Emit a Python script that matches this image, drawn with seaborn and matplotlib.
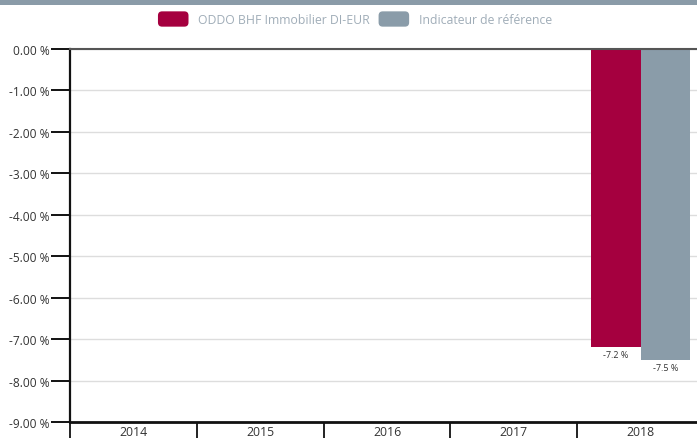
import matplotlib
matplotlib.use("Agg")
import matplotlib.pyplot as plt
import seaborn as sns
import pandas as pd
import numpy as np
from matplotlib.patches import FancyBboxPatch, Rectangle
from matplotlib.legend_handler import HandlerPatch

# ---- data ----
years = ["2014", "2015", "2016", "2017", "2018"]
fund_values = [np.nan, np.nan, np.nan, np.nan, -7.2]
bench_values = [np.nan, np.nan, np.nan, np.nan, -7.5]
series_names = ["ODDO BHF Immobilier DI-EUR", "Indicateur de référence"]
y_ticks = [0, -1, -2, -3, -4, -5, -6, -7, -8, -9]
y_tick_labels = ["0.00 %", "-1.00 %", "-2.00 %", "-3.00 %", "-4.00 %",
                 "-5.00 %", "-6.00 %", "-7.00 %", "-8.00 %", "-9.00 %"]

colors = ["#a5003f", "#8a9ca9"]

df = pd.DataFrame({
    "year": years * 2,
    "series": [series_names[0]] * len(years) + [series_names[1]] * len(years),
    "value": fund_values + bench_values,
})

sns.set_theme(style="white")
plt.rcParams["font.family"] = ["Open Sans", "DejaVu Sans"]

W, H = 697, 439
fig = plt.figure(figsize=(W / 100, H / 100), dpi=100)
ax = fig.add_axes([70 / W, 16 / H, 634 / W, 373 / H])

sns.barplot(data=df.dropna(), x="year", y="value", hue="series",
            order=years, hue_order=series_names, palette=colors,
            width=0.78, ax=ax, saturation=1, legend=False, errorbar=None,
            linewidth=0)

ax.set_xlim(-0.5, len(years) - 0.5)
ax.set_ylim(-9, 0)
ax.set_xlabel("")
ax.set_ylabel("")

# grid
ax.set_yticks(y_ticks)
ax.set_yticklabels(y_tick_labels)
ax.yaxis.grid(True, color="#dddddd", linewidth=1)
ax.set_axisbelow(True)

# ticks
ax.tick_params(axis="y", length=13.5, width=1.4, color="#111111",
               labelsize=8.6, labelcolor="#333333", pad=1, direction="out", left=True)
ax.set_xticks(range(len(years)))
ax.set_xticklabels(years)
ax.set_xticks(np.arange(-0.5, len(years), 1.0), minor=True)
ax.tick_params(axis="x", which="major", length=0, labelsize=8.8, labelcolor="#333333", pad=2)
ax.tick_params(axis="x", which="minor", length=13, width=1.3, color="#111111",
               direction="out", bottom=True)

ax.spines["right"].set_visible(False)
ax.spines["top"].set_color("#555555")
ax.spines["top"].set_linewidth(1.5)
ax.spines["left"].set_color("#111111")
ax.spines["left"].set_linewidth(1.6)
ax.spines["bottom"].set_color("#111111")
ax.spines["bottom"].set_linewidth(2)

# value labels
label_vals = [fund_values, bench_values]
for cont, vals in zip(ax.containers, label_vals):
    present = [v for v in vals if not np.isnan(v)]
    ax.bar_label(cont, labels=[f"{v:.1f} %" for v in present], padding=2,
                 fontsize=6.5, color="#333333")

# top band
fig.patches.append(Rectangle((0, 1 - 6 / H), 1, 6 / H, transform=fig.transFigure,
                             facecolor="#8a9ba8", edgecolor="none", zorder=0))


class RoundHandler(HandlerPatch):
    def create_artists(self, legend, orig_handle, xdescent, ydescent, width,
                       height, fontsize, trans):
        p = FancyBboxPatch((-xdescent, -ydescent), width, height,
                           boxstyle="round,pad=0,rounding_size=3",
                           facecolor=orig_handle.get_facecolor(),
                           edgecolor="none", transform=trans)
        return [p]


handles = [Rectangle((0, 0), 1, 1, facecolor=c) for c in colors]
leg = fig.legend(handles, series_names, loc="center", bbox_to_anchor=(355 / W, 1 - 20 / H),
                 ncol=2, frameon=False, fontsize=8.8, handlelength=2.5,
                 handleheight=1.55, handletextpad=0.8, columnspacing=0.7,
                 handler_map={Rectangle: RoundHandler()})
for t in leg.get_texts():
    t.set_color("#a0adb8")

fig.savefig("out.png", dpi=100)
